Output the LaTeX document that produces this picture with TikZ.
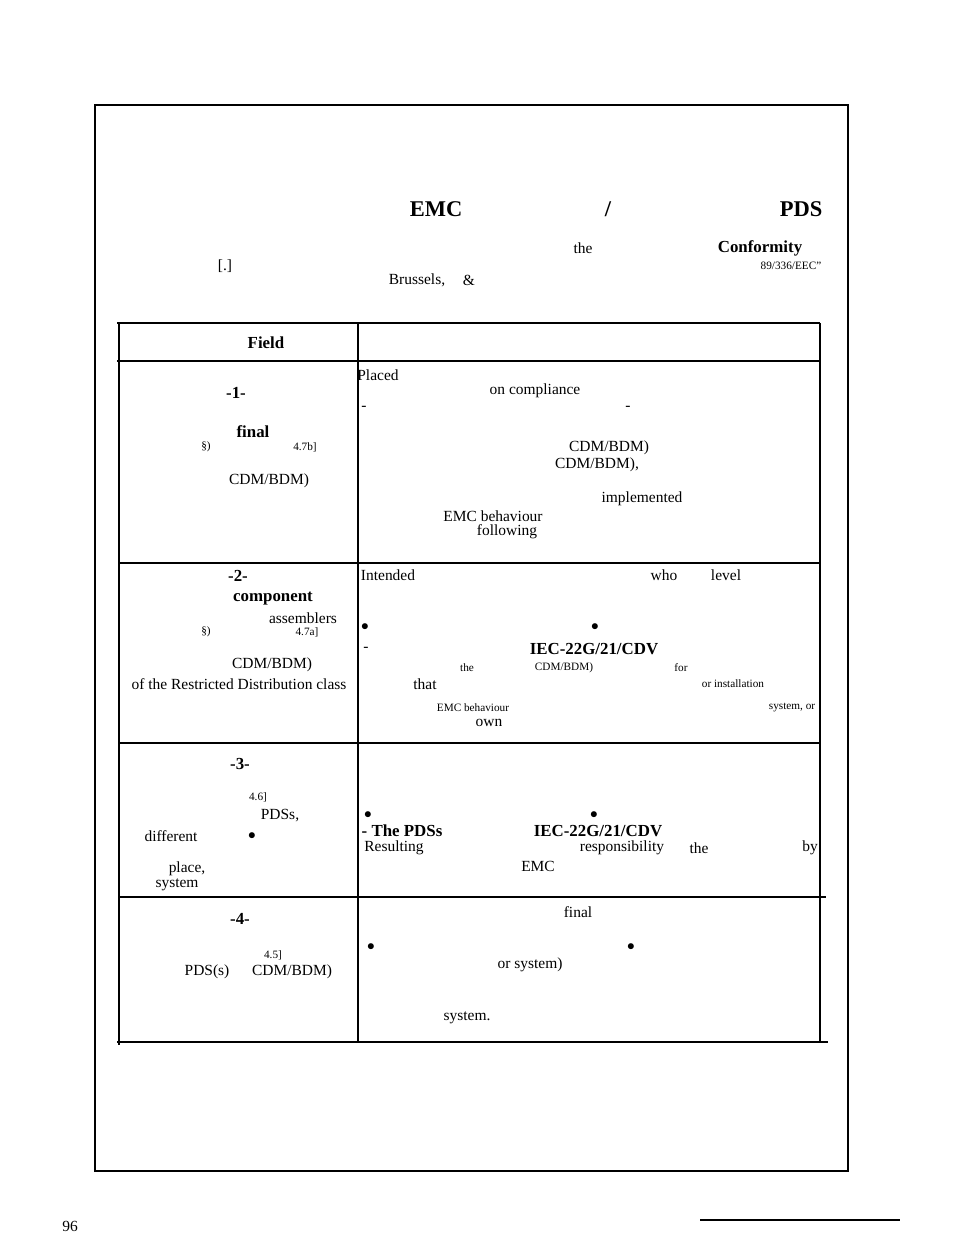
\documentclass[tikz,border=0pt]{standalone}
\usepackage{fontspec}
\setmainfont{Liberation Serif}
\usetikzlibrary{positioning}

\begin{document}
\begin{tikzpicture}[
    x=0.025cm, y=-0.025cm,
    rule/.style={draw=black, line width=0.8pt},
    heavy/.style={draw=black, line width=1.4pt},
    body/.style={inner sep=0pt, font=\fontsize{11}{12}\selectfont},
    small/.style={inner sep=0pt, font=\fontsize{8}{9}\selectfont},
    strong/.style={inner sep=0pt, font=\bfseries\fontsize{12}{13}\selectfont},
    title/.style={inner sep=0pt, font=\bfseries\fontsize{16}{18}\selectfont}
]
\clip (0,0) rectangle (954,1233);
\useasboundingbox (0,0) rectangle (954,1233);

% page frame
\draw[rule] (95,1172) -- (95,105) -- (848,105) -- (848,1172);
\draw[rule] (95,1171) -- (848,1171);
\draw[rule] (700,1220) -- (900,1220);
\node[body] (pageno) at (70,1226) {96};

% table grid
\draw[heavy] (117,323) -- (820,323);
\draw[rule] (117,361) -- (820,361);
\draw[heavy] (119,323) -- (119,1045);
\draw[rule] (358,323) -- (358,1042);
\draw[heavy] (820,323) -- (820,1043);
\draw[rule] (119,563) -- (820,563);
\draw[rule] (119,743) -- (820,743);
\draw[rule] (119,897) -- (826,897);
\draw[heavy] (117,1042) -- (828,1042);

% heading
\foreach \x/\y/\s [count=\i] in {436/209/EMC, 608/209/{/}, 801/209/PDS}
  \node[title] (h\i) at (\x,\y) {\s};
\foreach \x/\y/\s [count=\i] in {225/266/{[.]}, 583/248/the, 417/280/{Brussels,}, 469/280/{\&}}
  \node[body] (s\i) at (\x,\y) {\s};
\node[strong] (conf) at (760,248) {Conformity};
\node[small] (dir) at (791,266) {89/336/EEC"};
\node[strong] (field) at (266,343) {Field};

% left column
\foreach \x/\y/\s [count=\i] in {236/393/-1-, 253/432/final, 238/576/-2-, 273/599/component,
    240/764/-3-, 240/919/-4-}
  \node[strong] (lb\i) at (\x,\y) {\s};
\foreach \x/\y/\s [count=\i] in {269/481/{CDM/BDM)}, 303/618/assemblers, 272/665/{CDM/BDM)},
    239/684/{of the Restricted Distribution class}, 280/816/{PDSs,}, 171/836/different,
    252/836/{$\bullet$}, 187/869/{place,}, 177/885/system, 207/972/{PDS(s)}, 292/972/{CDM/BDM)}}
  \node[body] (l\i) at (\x,\y) {\s};
\foreach \x/\y/\s [count=\i] in {206/447/§), 305/447/{4.7b]}, 206/632/§), 307/632/{4.7a]},
    258/797/{4.6]}, 273/955/{4.5]}}
  \node[small] (ls\i) at (\x,\y) {\s};

% right column
\foreach \x/\y/\s [count=\i] in {378/375/Placed, 535/391/{on compliance}, 364/408/-, 628/408/-,
    609/448/{CDM/BDM)}, 597/465/{CDM/BDM),}, 642/499/implemented, 493/516/{EMC behaviour},
    507/532/following, 388/575/Intended, 664/575/who, 726/575/level,
    365/627/{$\bullet$}, 595/627/{$\bullet$}, 366/649/-, 425/684/that, 489/723/own,
    368/815/{$\bullet$}, 594/815/{$\bullet$}, 394/848/Resulting, 622/848/responsibility,
    699/848/the, 810/848/by, 538/866/EMC, 578/912/final, 371/947/{$\bullet$}, 631/947/{$\bullet$},
    530/965/{or system)}, 467/1018/{system.}}
  \node[body] (r\i) at (\x,\y) {\s};
\foreach \x/\y/\s [count=\i] in {594/649/{IEC-22G/21/CDV}, 402/831/{- The PDSs}, 598/831/{IEC-22G/21/CDV}}
  \node[strong] (rb\i) at (\x,\y) {\s};
\foreach \x/\y/\s [count=\i] in {467/668/the, 564/668/{CDM/BDM)}, 681/668/for,
    733/684/{or installation}, 473/708/{EMC behaviour}, 792/708/{system, or}}
  \node[small] (rs\i) at (\x,\y) {\s};
\end{tikzpicture}
\end{document}
